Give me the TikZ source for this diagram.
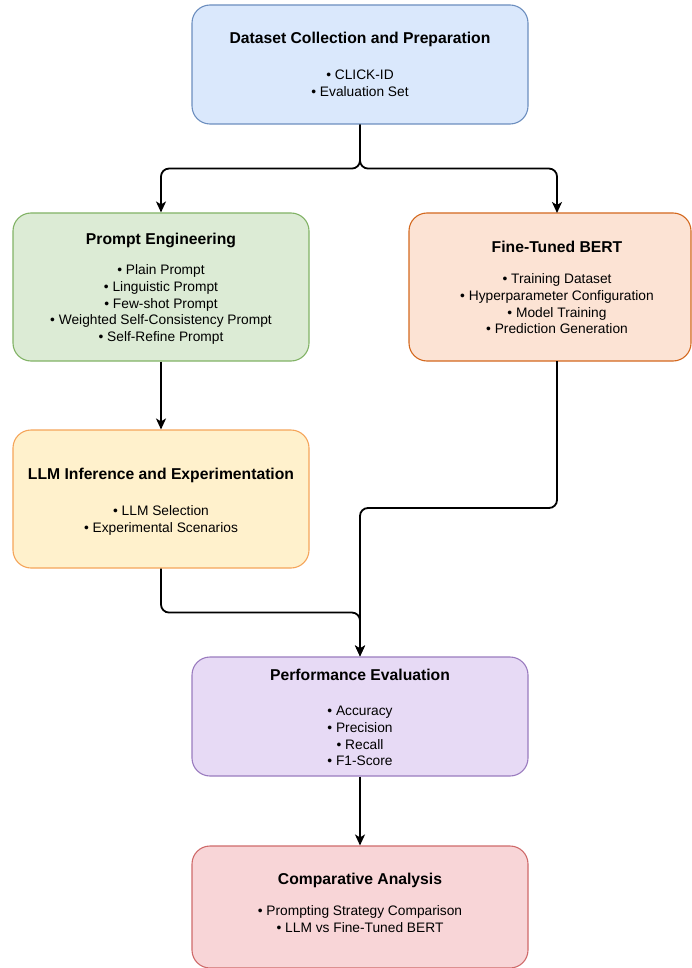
\documentclass[tikz,border=0pt]{standalone}
\usepackage{fontspec}
\setmainfont{Liberation Sans}
\usetikzlibrary{arrows.meta,positioning}
\definecolor{b1f}{HTML}{DAE8FC}\definecolor{b1d}{HTML}{6C8EBF}
\definecolor{b2f}{HTML}{DCEBD5}\definecolor{b2d}{HTML}{82B366}
\definecolor{b3f}{HTML}{FCE3D4}\definecolor{b3d}{HTML}{D4691F}
\definecolor{b4f}{HTML}{FFF1CC}\definecolor{b4d}{HTML}{F5A55A}
\definecolor{b5f}{HTML}{E7DAF5}\definecolor{b5d}{HTML}{9A7BBF}
\definecolor{b6f}{HTML}{F8D5D7}\definecolor{b6d}{HTML}{CF6A6A}
\tikzset{
  stagebox/.style={draw, line width=1.1pt, rounded corners=18pt, inner sep=0pt},
  conn/.style={draw=black, line width=1.8pt, rounded corners=8pt, -{Stealth[length=11pt,width=10pt,inset=3pt]}},
  ttl/.style={anchor=base, inner sep=0pt, font=\fontsize{15.7}{18}\selectfont\bfseries},
  itm/.style={anchor=base, inner sep=0pt, font=\fontsize{13.75}{16.5}\selectfont},
}
\newcommand{\boxat}[7]{% name, left, top, right, bottom, fill, draw
  \node[stagebox, fill=#6, draw=#7, minimum width={#4-#2}, minimum height={#5-#3}] (#1) at ({(#2+#4)/2},{(#3+#5)/2}) {};}
\begin{document}
\begin{tikzpicture}[x=1pt,y=-1pt]
\clip (0,0) rectangle (692,968);
\fill[white] (0,0) rectangle (692,968);
% boxes
\boxat{b1}{192}{5}{528}{124}{b1f}{b1d}
\boxat{b2}{13}{213}{309}{361}{b2f}{b2d}
\boxat{b3}{409}{213}{691}{361}{b3f}{b3d}
\boxat{b4}{13}{430}{309}{568}{b4f}{b4d}
\boxat{b5}{192}{657}{528}{776}{b5f}{b5d}
\boxat{b6}{192}{846}{528}{968}{b6f}{b6d}
% box 1 text
\node[ttl] (t1) at (360,43.6) {Dataset Collection and Preparation};
\node[itm] (t1a) at (360,79.9) {• CLICK-ID};
\node[itm] (t1b) at (360,96.6) {• Evaluation Set};
% box 2 text
\node[ttl] (t2) at (161,244.1) {Prompt Engineering};
\node[itm] (t2a) at (161,274.9) {• Plain Prompt};
\node[itm] (t2b) at (161,291.6) {• Linguistic Prompt};
\node[itm] (t2c) at (161,308.3) {• Few-shot Prompt};
\node[itm] (t2d) at (161,324.9) {• Weighted Self-Consistency Prompt};
\node[itm] (t2e) at (161,341.6) {• Self-Refine Prompt};
% box 3 text
\node[ttl] (t3) at (557,252.1) {Fine-Tuned BERT};
\node[itm] (t3a) at (557,283.9) {• Training Dataset};
\node[itm] (t3b) at (557,300.6) {• Hyperparameter Configuration};
\node[itm] (t3c) at (557,317.3) {• Model Training};
\node[itm] (t3d) at (557,333.9) {• Prediction Generation};
% box 4 text
\node[ttl] (t4) at (161,479.1) {LLM Inference and Experimentation};
\node[itm] (t4a) at (161,515.9) {• LLM Selection};
\node[itm] (t4b) at (161,532.6) {• Experimental Scenarios};
% box 5 text
\node[ttl] (t5) at (360,680.1) {Performance Evaluation};
\node[itm] (t5a) at (360,715.9) {• Accuracy};
\node[itm] (t5b) at (360,732.6) {• Precision};
\node[itm] (t5c) at (360,749.3) {• Recall};
\node[itm] (t5d) at (360,765.9) {• F1-Score};
% box 6 text
\node[ttl] (t6) at (360,884.6) {Comparative Analysis};
\node[itm] (t6a) at (360,915.4) {• Prompting Strategy Comparison};
\node[itm] (t6b) at (360,932.1) {• LLM vs Fine-Tuned BERT};
% connector end points on box 3 (its text axis)
\coordinate (b3in) at (557,213);
\coordinate (b3out) at (557,361);
% connectors
\draw[conn] (b1.south) -- ++(0,44) -| (b2.north);
\draw[conn] (b1.south) -- ++(0,44) -| (b3in);
\draw[conn] (b2.south) -- (b4.north);
\draw[conn] (b4.south) -- ++(0,44) -| (b5.north);
\draw[conn] (b3out) -- ++(0,147) -| (b5.north);
\draw[conn] (b5.south) -- (b6.north);
\end{tikzpicture}
\end{document}
